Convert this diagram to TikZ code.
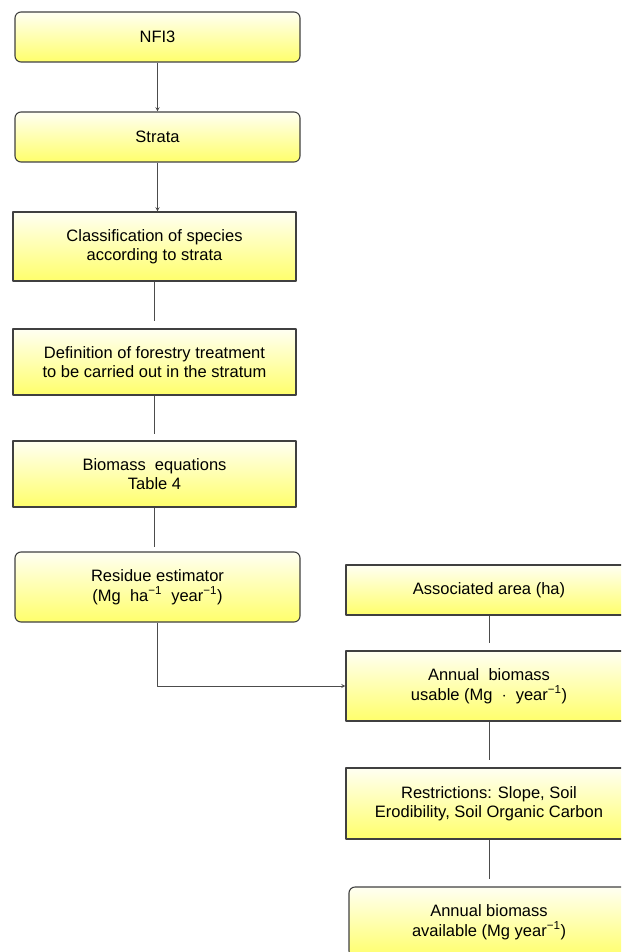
\documentclass[tikz,border=0pt]{standalone}
\usepackage{fontspec}
\setmainfont{Liberation Sans}
\usetikzlibrary{arrows}
\newcommand{\minusone}{\textsuperscript{\char"2212 1}}
\begin{document}
\begin{tikzpicture}[x=1pt, y=-1pt, font=\fontsize{16.5}{19.5}\selectfont, line join=round, >=stealth,
	box/.style={draw=black!75, line width=1.1pt, top color=yellow!5, bottom color=yellow!58, align=center, inner sep=0pt},
	roundbox/.style={box, rounded corners=6pt},
	link/.style={draw=black!70, line width=0.9pt}]
	\clip (0,0) rectangle (621,952);
	\path
	(157.5,37) node[roundbox, minimum width=285, minimum height=50] (nfi) {NFI3}
	(157.5,137) node[roundbox, minimum width=285, minimum height=50] (strata) {Strata}
	(154.5,246.5) node[box, minimum width=283, minimum height=69] (classif) {Classification of species\\according to strata}
	(154.5,362) node[box, minimum width=283, minimum height=66] (treat) {Definition of forestry treatment\\to be carried out in the stratum}
	(154.5,474) node[box, minimum width=283, minimum height=66] (equat) {Biomass\ \ equations\\Table 4}
	(157.5,587) node[roundbox, minimum width=285, minimum height=70] (resid) {Residue estimator\\(Mg\ \ ha\minusone\ \ year\minusone)}

	(489,590) node[box, minimum width=286, minimum height=50] (area) {Associated area (ha)}
	(489,686) node[box, minimum width=286, minimum height=70] (usable) {Annual\ \ biomass\\usable (Mg\ \ $\cdot$\ \ year\minusone)}
	(489,803.5) node[box, minimum width=286, minimum height=71] (restr) {Restrictions: Slope, Soil\\Erodibility, Soil Organic Carbon}
	(489,922) node[roundbox, minimum width=280, minimum height=70] (avail) {Annual biomass\\available (Mg year\minusone)};

	\draw[link,->] (nfi.south) -- (strata.north);
	\draw[link,->] (strata.south) -- (classif.north -| strata.south);
	\draw[link, shorten >=7pt] (classif) -- (treat);
	\draw[link, shorten >=6pt] (treat) -- (equat);
	\draw[link, shorten >=4pt] (equat.south) -- (equat.south |- resid.north);
	\draw[link,->] (resid.south) |- (usable.west);
	\draw[link, shorten >=7pt] (area) -- (usable);
	\draw[link, shorten >=7pt] (usable) -- (restr);
	\draw[link, shorten >=7pt] (restr) -- (avail);
\end{tikzpicture}
\end{document}
